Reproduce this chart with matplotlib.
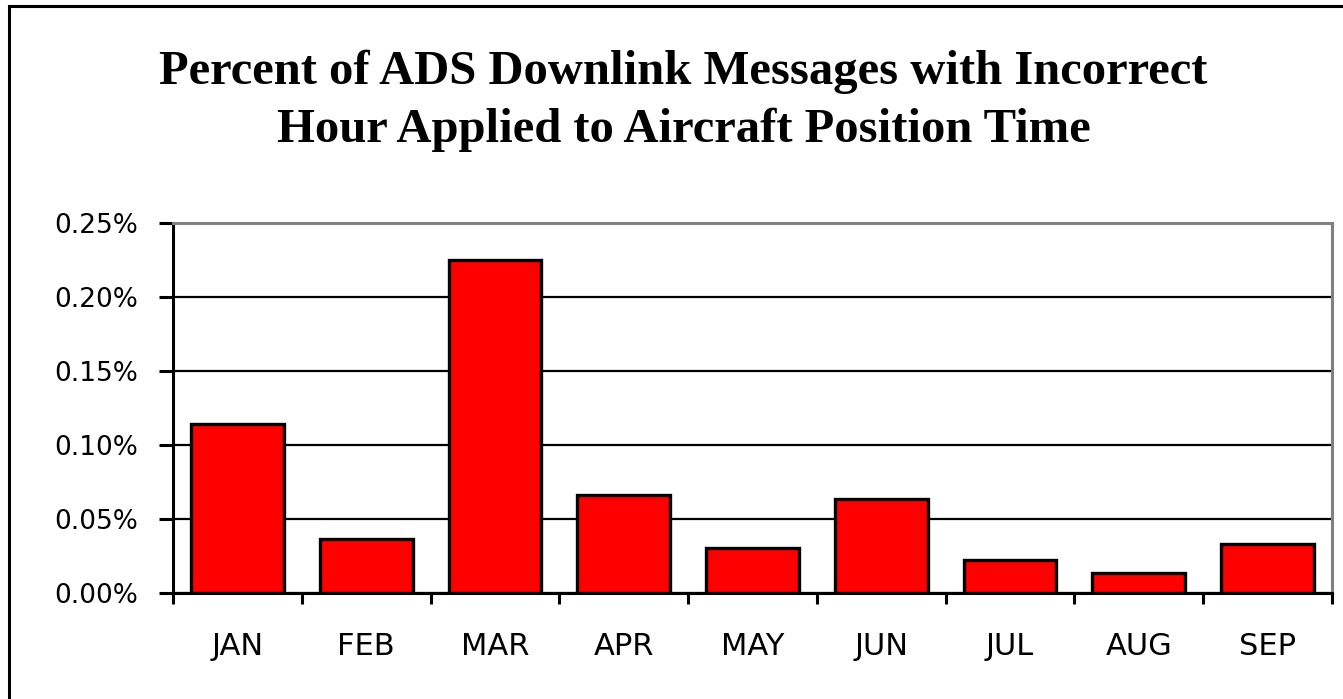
import matplotlib
matplotlib.use("Agg")
import matplotlib.pyplot as plt
from matplotlib.patches import Rectangle
from matplotlib.ticker import FixedLocator, FuncFormatter

months = ["JAN", "FEB", "MAR", "APR", "MAY", "JUN", "JUL", "AUG", "SEP"]
pct_incorrect = [0.1142, 0.0368, 0.2247, 0.0659, 0.0304, 0.0635, 0.0220, 0.0132, 0.0328]
y_ticks = [0.00, 0.05, 0.10, 0.15, 0.20, 0.25]
title_lines = ["Percent of ADS Downlink Messages with Incorrect",
               "Hour Applied to Aircraft Position Time"]

W, H = 1343, 699
fig = plt.figure(figsize=(W / 100, H / 100), dpi=100)
fig.patch.set_facecolor("white")

# Outer chart frame (left and top edges visible)
fig.patches.append(Rectangle((9 / W, -0.05), 1.2, 1 - 6 / H + 0.05,
                             transform=fig.transFigure, fill=False,
                             edgecolor="black", linewidth=2.2))

for line, ypix in zip(title_lines, (72, 130)):
    fig.text(0.509, 1 - ypix / H, line, ha="center", va="center",
             fontsize=35, fontweight="bold", family="Liberation Serif")

ax = fig.add_axes([173 / W, 106 / H, (1332 - 173) / W, 370 / H])
x = list(range(len(months)))
ax.bar(x, pct_incorrect, width=0.72, color="#ff0000", edgecolor="black",
       linewidth=2.4, zorder=3)

ax.set_xlim(-0.5, len(months) - 0.5)
ax.set_ylim(0, 0.25)
ax.yaxis.set_major_locator(FixedLocator(y_ticks))
ax.yaxis.set_major_formatter(FuncFormatter(lambda v, p: f"{v:.2f}%"))
ax.grid(axis="y", color="black", linewidth=1.6, zorder=1)
ax.set_axisbelow(True)

ax.set_xticks(x)
ax.set_xticklabels(months)
ax.set_xticks([i - 0.5 for i in range(len(months) + 1)], minor=True)
ax.tick_params(axis="x", which="major", length=0, pad=28, labelsize=22)
ax.tick_params(axis="x", which="minor", length=8, width=2.2, direction="out", color="black")
ax.tick_params(axis="y", which="major", length=10, width=2.2, direction="out", pad=15, labelsize=19)

for lbl in ax.get_xticklabels() + ax.get_yticklabels():
    lbl.set_family("DejaVu Sans")

for side in ("left", "bottom"):
    ax.spines[side].set_color("black")
    ax.spines[side].set_linewidth(2.2)
for side in ("top", "right"):
    ax.spines[side].set_color("#808080")
    ax.spines[side].set_linewidth(2.2)

fig.savefig("out.png", dpi=100, facecolor="white")
